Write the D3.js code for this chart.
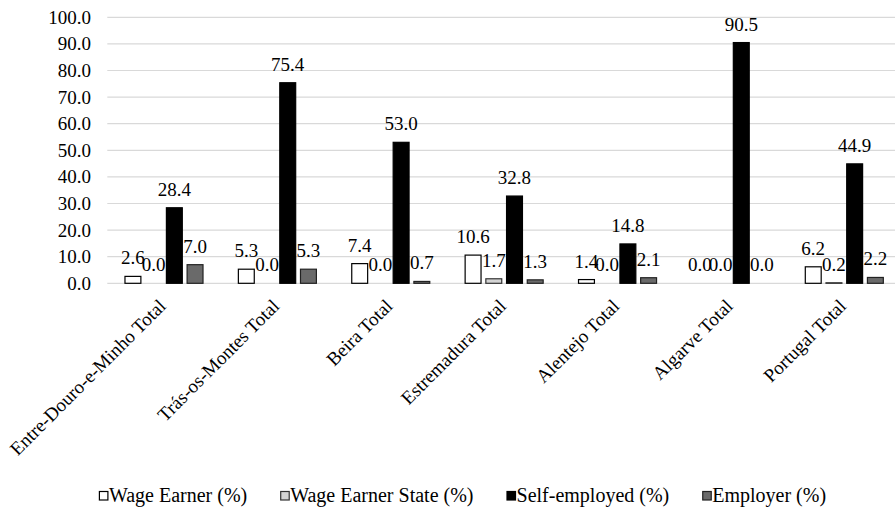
<!DOCTYPE html>
<html>
<head>
<meta charset="utf-8">
<script src="https://cdn.jsdelivr.net/npm/d3@7"></script>
<style>
  html, body { margin: 0; padding: 0; background: #fff; }
  svg { display: block; }
</style>
</head>
<body>
<svg id="chart" width="895" height="509"></svg>
<script>
// Regions of Portugal
const categories = [
  "Entre-Douro-e-Minho Total",
  "Trás-os-Montes Total",
  "Beira Total",
  "Estremadura Total",
  "Alentejo Total",
  "Algarve Total",
  "Portugal Total"
];

// Series names (legend order)
const seriesNames = [
  "Wage Earner (%)",
  "Wage Earner State (%)",
  "Self-employed (%)",
  "Employer (%)"
];

// Values per series, in category order
const wageEarner      = [2.6, 5.3, 7.4, 10.6, 1.4, 0.0, 6.2];
const wageEarnerState = [0.0, 0.0, 0.0, 1.7, 0.0, 0.0, 0.2];
const selfEmployed    = [28.4, 75.4, 53.0, 32.8, 14.8, 90.5, 44.9];
const employer        = [7.0, 5.3, 0.7, 1.3, 2.1, 0.0, 2.2];

// Y axis ticks
const yTicks = [0, 10, 20, 30, 40, 50, 60, 70, 80, 90, 100];

const seriesValues = [wageEarner, wageEarnerState, selfEmployed, employer];
const fills   = ["#ffffff", "#d4d4d4", "#000000", "#6a6a6a"];
const strokes = ["#000000", "#333333", "#000000", "#222222"];

const FONT = "'Liberation Serif', 'Times New Roman', Times, 'DejaVu Serif', serif";
const fontSize = 19;
const legendFontSize = 20;

const svg = d3.select("#chart")
  .attr("font-family", FONT)
  .style("font-family", FONT);

const y = d3.scaleLinear().domain([0, 100]).range([283.3, 17.3]);

const pIn = 0.303;
const x0 = d3.scaleBand()
  .domain(categories)
  .range([107.3, 901])
  .paddingInner(pIn)
  .paddingOuter(pIn / 2);

const x1 = d3.scaleBand()
  .domain(seriesNames)
  .range([0, x0.bandwidth()])
  .paddingInner(0.184)
  .paddingOuter(0);

// Gridlines
svg.append("g")
  .selectAll("line")
  .data(yTicks)
  .join("line")
  .attr("x1", 107.3)
  .attr("x2", 895)
  .attr("y1", d => y(d))
  .attr("y2", d => y(d))
  .attr("stroke", "#d9d9d9")
  .attr("stroke-width", 1.2);

// Y axis labels
const yAxis = d3.axisLeft(y)
  .tickValues(yTicks)
  .tickFormat(d3.format(".1f"))
  .tickSize(0)
  .tickPadding(0);

const yg = svg.append("g")
  .attr("transform", "translate(91,0)")
  .call(yAxis)
  .attr("font-family", FONT)
  .attr("font-size", fontSize);
yg.select(".domain").remove();
yg.selectAll("text")
  .style("font-family", FONT)
  .style("font-size", fontSize + "px")
  .attr("fill", "#000");

// Bars
const rows = categories.map((c, i) => ({
  cat: c,
  vals: seriesNames.map((s, j) => ({ s, j, v: seriesValues[j][i] }))
}));

const groups = svg.append("g")
  .selectAll("g")
  .data(rows)
  .join("g")
  .attr("transform", d => `translate(${x0(d.cat)},0)`);

groups.selectAll("rect")
  .data(d => d.vals)
  .join("rect")
  .attr("x", d => x1(d.s) + 0.5)
  .attr("width", x1.bandwidth() - 1)
  .attr("y", d => y(d.v))
  .attr("height", d => y(0) - y(d.v))
  .attr("fill", d => fills[d.j])
  .attr("stroke", d => d.v > 0 ? strokes[d.j] : "none")
  .attr("stroke-width", 1.2);

// Value labels
groups.selectAll("text")
  .data(d => d.vals)
  .join("text")
  .attr("x", d => x1(d.s) + x1.bandwidth() / 2)
  .attr("y", d => y(d.v) - 12)
  .attr("text-anchor", "middle")
  .style("font-family", FONT)
  .style("font-size", fontSize + "px")
  .text(d => d3.format(".1f")(d.v));

// Category labels (rotated)
svg.append("g")
  .selectAll("text")
  .data(categories)
  .join("text")
  .attr("transform", d => `translate(${x0(d) + x0.bandwidth() / 2 + 3},${y(0) + 24}) rotate(-45)`)
  .attr("text-anchor", "end")
  .style("font-family", FONT)
  .style("font-size", fontSize + "px")
  .text(d => d);

// Legend
const legend = svg.append("g");
let cx = 0;
seriesNames.forEach((name, j) => {
  const g = legend.append("g").attr("transform", `translate(${cx},0)`);
  g.append("rect")
    .attr("x", 0.5).attr("y", -10.5)
    .attr("width", 8.5).attr("height", 8.5)
    .attr("fill", fills[j])
    .attr("stroke", strokes[j])
    .attr("stroke-width", 1.2);
  const t = g.append("text")
    .attr("x", 10)
    .attr("y", 0)
    .style("font-family", FONT)
    .style("font-size", legendFontSize + "px")
    .text(name);
  const w = 10 + t.node().getComputedTextLength();
  cx += w + 33;
});
const legendWidth = cx - 33;
legend.attr("transform", `translate(${462.5 - legendWidth / 2},502)`);
</script>
</body>
</html>
